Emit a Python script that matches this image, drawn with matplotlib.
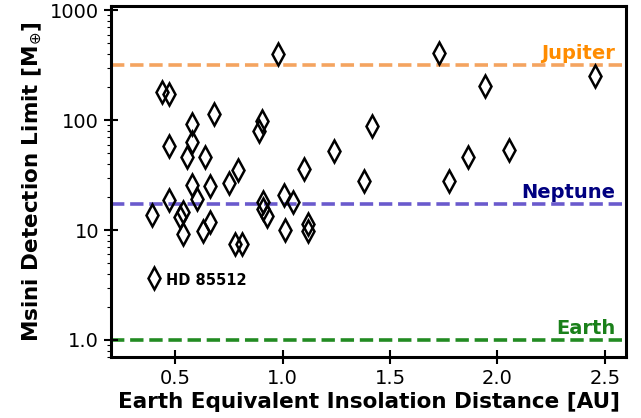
import matplotlib
matplotlib.use("Agg")
import matplotlib.pyplot as plt

# Earth-equivalent insolation distance [AU]
dist = [0.44, 0.47, 0.47, 0.58, 0.58, 0.68, 0.556, 0.64, 0.58, 0.66,
        0.75, 0.79, 0.905, 0.888, 0.98, 0.47, 0.60, 0.39, 0.523, 0.536,
        0.536, 0.66, 0.63, 0.78, 0.81, 0.91, 0.91, 0.925, 1.005, 1.05,
        1.01, 1.12, 1.12, 1.10, 1.24, 1.416, 1.38, 1.73, 1.944, 2.453,
        2.056, 1.864, 1.776, 0.40]
# Msini detection limit [Earth masses]
msini = [180, 172, 58, 92, 64, 113, 46, 46, 26, 25,
         27, 35, 98, 80, 400, 18.7, 19, 13.7, 13.2, 14.6,
         9.2, 11.8, 9.8, 7.5, 7.5, 18, 15.5, 13.5, 21, 18,
         10, 11.4, 9.8, 36, 52, 88, 28, 407, 204, 251,
         54, 46, 28, 3.7]

ref_names = ["Jupiter", "Neptune", "Earth"]
ref_masses = [317.8, 17.15, 1.0]
ref_line_colors = ["#f4a460", "#6a5acd", "#228b22"]
ref_text_colors = ["#ff8c00", "#000080", "#1a801a"]

label_name = "HD 85512"
label_xy = (0.455, 3.45)

fig = plt.figure(figsize=(6.41, 4.18), dpi=100)
ax = fig.add_axes([0.173, 0.146, 0.804, 0.840])

for name, m, lc, tc in zip(ref_names, ref_masses, ref_line_colors, ref_text_colors):
    ax.axhline(m, color=lc, ls="--", lw=2.6, zorder=1)
    ax.text(2.548, m * 1.05, name, color=tc, fontsize=14, fontweight="bold",
            ha="right", va="bottom")

ax.plot(dist, msini, ls="none", marker="d", ms=11, mfc="none",
        mec="black", mew=1.8, zorder=3)

ax.text(label_xy[0], label_xy[1], label_name, fontsize=10.5, fontweight="bold",
        ha="left", va="center")

ax.set_yscale("log")
ax.set_xlim(0.2, 2.6)
ax.set_ylim(0.7, 1100)
ax.set_yticks([1, 10, 100, 1000])
ax.set_yticklabels(["1.0", "10", "100", "1000"])
ax.set_xticks([0.5, 1.0, 1.5, 2.0, 2.5])
ax.set_xticklabels(["0.5", "1.0", "1.5", "2.0", "2.5"])

ax.tick_params(axis="both", which="major", direction="inout", length=10,
               width=1.5, labelsize=14)
ax.tick_params(axis="y", which="minor", direction="out", length=3, width=0.8)

for sp in ax.spines.values():
    sp.set_linewidth(2.2)

ax.set_xlabel("Earth Equivalent Insolation Distance [AU]", fontsize=15.5,
              fontweight="bold", labelpad=3)
ax.set_ylabel(r"Msini Detection Limit [M$_{\oplus}$]", fontsize=15.5,
              fontweight="bold", labelpad=4)

fig.savefig("out.png", dpi=100)
